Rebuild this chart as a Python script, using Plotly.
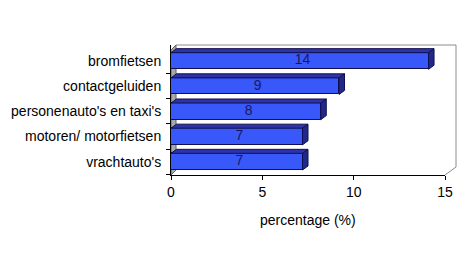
import plotly.graph_objects as go

# ---- data ----
categories = ["vrachtauto's", "motoren/ motorfietsen", "personenauto's en taxi's",
              "contactgeluiden", "bromfietsen"]
values = [7.2, 7.2, 8.2, 9.2, 14.1]
value_labels = ["7", "7", "8", "9", "14"]
x_tick_values = [0, 5, 10, 15]
x_title = "percentage (%)"

# ---- styling / geometry ----
W, H = 467, 267
L, R, T, B = 171, 22, 45, 92
PW, PH = W - L - R, H - T - B
FONT = "Liberation Sans, Arial, sans-serif"
FRONT = "#3858FA"
TOP = "#2F33A8"
SIDE = "#222888"
EDGE = "#101050"
BAR_W = 0.66
DX, DY = 0.3, 0.16  # 3D depth in data units


def pxx(xp):
    return (xp - L) / PW


def pxy(yp):
    return (H - B - yp) / PH


fig = go.Figure()

ys = list(range(len(categories)))

# front faces
fig.add_trace(go.Bar(
    x=values, y=ys, orientation="h", width=BAR_W,
    marker=dict(color=FRONT, line=dict(color=EDGE, width=1)),
    hoverinfo="skip", showlegend=False,
))

# top and side faces built from the data
for v, y in zip(values, ys):
    top_y = y + BAR_W / 2
    bot_y = y - BAR_W / 2
    fig.add_trace(go.Scatter(
        x=[0, v, v + DX, DX, 0], y=[top_y, top_y, top_y + DY, top_y + DY, top_y],
        mode="lines", fill="toself", fillcolor=TOP,
        line=dict(color=EDGE, width=1), hoverinfo="skip", showlegend=False,
    ))
    fig.add_trace(go.Scatter(
        x=[v, v + DX, v + DX, v, v], y=[bot_y, bot_y + DY, top_y + DY, top_y, bot_y],
        mode="lines", fill="toself", fillcolor=SIDE,
        line=dict(color=EDGE, width=1), hoverinfo="skip", showlegend=False,
    ))

# value labels
fig.add_trace(go.Scatter(
    x=[v / 2 + DX / 2 for v in values], y=ys, text=value_labels,
    mode="text", textposition="middle center",
    textfont=dict(family=FONT, size=14, color="#181860"),
    hoverinfo="skip", showlegend=False,
))

shapes = []
# left gray wall
shapes.append(dict(
    type="path", xref="paper", yref="paper",
    path=f"M {pxx(171)} {pxy(175)} L {pxx(171)} {pxy(50)} L {pxx(176)} {pxy(45)} "
         f"L {pxx(176)} {pxy(170)} Z",
    fillcolor="#A8A8A8", line=dict(color="#606060", width=1), layer="below",
))
# back wall frame
shapes.append(dict(
    type="path", xref="paper", yref="paper",
    path=f"M {pxx(176)} {pxy(45)} L {pxx(456)} {pxy(45)} L {pxx(456)} {pxy(167)} "
         f"L {pxx(445)} {pxy(175)}",
    line=dict(color="#8C8C8C", width=1), layer="below",
))

fig.update_layout(
    width=W, height=H,
    margin=dict(l=L, r=R, t=T, b=B),
    paper_bgcolor="white", plot_bgcolor="white",
    font=dict(family=FONT, size=14, color="black"),
    shapes=shapes,
    xaxis=dict(
        range=[0, 15], tickvals=x_tick_values, ticktext=[str(t) for t in x_tick_values],
        showgrid=False, zeroline=False, showline=True, linecolor="black", linewidth=1,
        ticks="outside", ticklen=4, tickcolor="black",
        tickfont=dict(family=FONT, size=14, color="black"),
    ),
    yaxis=dict(
        range=[-0.53, 4.635], tickvals=ys, ticktext=categories,
        showgrid=False, zeroline=False, showline=True, linecolor="black", linewidth=1,
        ticks="", ticklabelstandoff=6,
        minor=dict(tickmode="array", tickvals=[-0.5, 0.5, 1.5, 2.5, 3.5],
                   ticks="outside", ticklen=4, tickcolor="black"),
        tickfont=dict(family=FONT, size=14, color="black"),
    ),
    annotations=[dict(
        text=x_title, xref="paper", yref="paper", x=0.5, y=pxy(220),
        xanchor="center", yanchor="middle", showarrow=False,
        font=dict(family=FONT, size=14, color="black"),
    )],
    bargap=0,
)

fig.write_html("out.html")
